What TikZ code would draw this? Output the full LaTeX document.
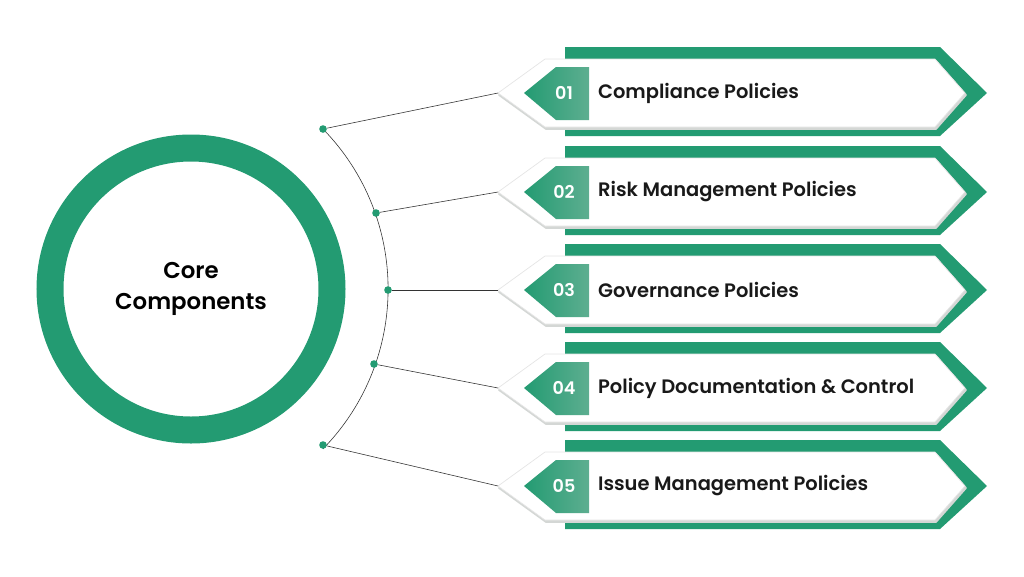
\documentclass[tikz,border=0pt]{standalone}
\usepackage{fontspec}
\setmainfont{Poppins}[BoldFont={Poppins SemiBold}]
\definecolor{grn}{HTML}{239B72}
\definecolor{grnl}{HTML}{5DAE90}
\definecolor{shd}{HTML}{D4D7D5}
\begin{document}
\begin{tikzpicture}[x=0.03cm,y=-0.03cm,
  dotst/.style={circle,fill=grn,inner sep=0pt,minimum size=6.5pt},
  lbl/.style={anchor=west,font=\bfseries\fontsize{16.6}{18}\selectfont,text=black!90},
  num/.style={font=\bfseries\fontsize{15}{18}\selectfont,text=white}]
\useasboundingbox (0,0) rectangle (1024,576);
\draw[grn,line width=27*0.03cm] (191,289) circle (141);
\node[font=\bfseries\fontsize{19.5}{27}\selectfont,align=center] (core) at (191,289) {Core\\Components};
\draw[black!80,line width=0.5pt] (323,129) arc[start angle=-44.3,end angle=44.3,radius=229] ;
\foreach \i/\y/\txt in {1/93/Compliance Policies,2/192/Risk Management Policies,3/290/Governance Policies,4/388/Policy Documentation \& Control,5/486/Issue Management Policies}{
  \fill[grn] (565,\y-46) -- (940,\y-46) -- (987,\y) -- (940,\y+43) -- (565,\y+43) -- cycle;
  \fill[shd,draw=shd,line width=1.5pt,line join=round] (499,\y+2) -- (546,\y-32) -- (936,\y-32) -- (966,\y+2) -- (936,\y+36) -- (546,\y+36) -- cycle;
  \filldraw[fill=white,draw=black!10,line width=0.6pt,line join=round] (498,\y) -- (545,\y-34) -- (935,\y-34) -- (965,\y) -- (935,\y+34) -- (545,\y+34) -- cycle;
  \shade[left color=grn,right color=grnl] (524,\y) -- (556,\y-26) -- (589,\y-26) -- (589,\y+27) -- (556,\y+27) -- cycle;
  \node[num] (n\i) at (564,\y) {0\i};
  \node[lbl] (t\i) at (594,\y) {\txt};
  \coordinate (tip\i) at (498,\y);
}
\node[dotst] (d1) at (323,129) {};
\node[dotst] (d2) at (376,213) {};
\node[dotst] (d3) at (388,290) {};
\node[dotst] (d4) at (374,364) {};
\node[dotst] (d5) at (323,445) {};
\foreach \i in {1,...,5}{\draw[black!80,line width=0.5pt] (d\i) -- (tip\i);}
\end{tikzpicture}
\end{document}
